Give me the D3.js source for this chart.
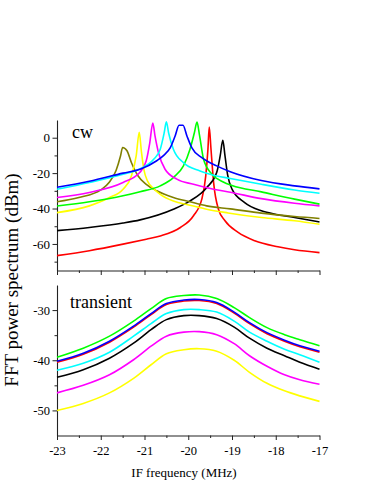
<!DOCTYPE html>
<html>
<head>
<meta charset="utf-8">
<script src="https://cdn.jsdelivr.net/npm/d3@7"></script>
<style>
  html, body { margin: 0; padding: 0; background: #fff; }
  svg { display: block; }
  text { font-family: "Liberation Serif", "DejaVu Serif", serif; fill: #000; }
</style>
</head>
<body>
<script>
// ---------- DATA ----------
// Top panel ("cw"): each curve has its own frequency samples (MHz) and values (dBm)
const blueF   = [-23, -22.26, -21.49, -21.1, -20.72, -20.56, -20.41, -20.30, -20.21, -20.12, -20.03, -19.92, -19.69, -19.35, -19.04, -18.33, -17.57, -17];
const blueV   = [-28.0, -24.6, -20.0, -17.8, -13.0, -10.0, -5.6, 1.0, 7.0, 7.0, 1.0, -5.6, -11.3, -15.9, -19.2, -24.2, -27.2, -28.9];

const cyanF   = [-23, -22.26, -21.49, -21.1, -20.79, -20.64, -20.55, -20.50, -20.45, -20.34, -20.11, -19.73, -19.35, -19.04, -18.33, -17.57, -17];
const cyanV   = [-29.1, -25.3, -20.6, -17.5, -12.2, -6.5, 2.8, 9.0, 2.8, -6.5, -14.1, -18.8, -21.6, -23.0, -26.3, -29.5, -31.4];

const magentaF = [-23, -22.26, -21.49, -21.11, -20.96, -20.88, -20.81, -20.76, -20.68, -20.53, -20.26, -19.88, -19.42, -19.04, -18.33, -17.57, -17];
const magentaV = [-33.8, -30.9, -25.3, -19.7, -13.0, -3.0, 8.3, 1.0, -8.5, -17.8, -23.4, -26.3, -29.1, -30.8, -34.4, -37.0, -38.5];

const yellowF = [-23, -22.26, -21.80, -21.49, -21.30, -21.19, -21.12, -21.07, -21.01, -20.93, -20.79, -20.64, -20.34, -19.96, -19.58, -19.09, -18.33, -17.57, -17];
const yellowV = [-42.3, -38.5, -33.8, -29.1, -21.6, -10.3, 3.0, -8.0, -18.5, -24.5, -28.8, -32.0, -35.8, -38.1, -40.4, -42.5, -45.1, -46.9, -48.9];

const oliveF  = [-23, -22.5, -22.0, -21.8, -21.65, -21.55, -21.50, -21.40, -21.30, -21.15, -20.96, -20.72, -20.34, -19.96, -19.58, -19.04, -18.33, -17.57, -17];
const oliveV  = [-36.2, -33.8, -29.5, -25.0, -18.5, -10.5, -5.5, -7.4, -14.0, -21.5, -26.3, -30.0, -33.8, -36.2, -38.5, -40.2, -42.6, -44.5, -45.6];

const greenF  = [-23, -22.26, -21.49, -21.1, -20.64, -20.34, -20.11, -19.96, -19.86, -19.80, -19.74, -19.65, -19.46, -19.2, -19.0, -18.33, -17.57, -17];
const greenV  = [-38.6, -36.2, -32.8, -30.5, -27.2, -22.5, -15.9, -6.5, 2.8, 8.8, 1.0, -12.2, -20.6, -25.0, -27.0, -30.6, -34.7, -37.5];

const blackF  = [-23, -22.26, -21.49, -21.1, -20.34, -19.96, -19.58, -19.35, -19.27, -19.21, -19.16, -19.10, -19.0, -18.71, -18.33, -17.95, -17.57, -17];
const blackV  = [-52.5, -50.7, -48.2, -46.4, -40.4, -35.7, -28.2, -19.7, -10.3, -1.5, -10.3, -21.0, -29.0, -36.6, -41.3, -43.5, -45.1, -47.6];

const redF    = [-23, -22.26, -21.49, -20.96, -20.64, -20.18, -19.88, -19.69, -19.60, -19.55, -19.52, -19.48, -19.42, -19.31, -19.16, -18.86, -18.48, -17.95, -17.57, -17];
const redV    = [-66.6, -63.8, -60.1, -57.3, -55.5, -50.7, -44.1, -34.7, -21.6, -6.5, 6.0, -6.5, -25.4, -40.4, -46.9, -53.5, -58.2, -61.6, -63.3, -64.9];

// Bottom panel ("transient"): shared frequency samples
const transF      = [-23, -22.4, -21.8, -21.25, -20.85, -20.5, -20.1, -19.75, -19.35, -18.95, -18.6, -18.2, -17.8, -17.45, -17];
const tGreenV     = [-39.4, -37.6, -35.2, -32.2, -29.7, -27.7, -27.1, -27.0, -27.7, -29.5, -31.5, -33.5, -34.9, -35.9, -37.1];
const tRedV       = [-40.4, -38.8, -36.4, -33.4, -30.9, -28.9, -28.2, -28.1, -28.7, -30.6, -32.7, -34.7, -36.2, -37.3, -38.4];
const tBlueV      = [-40.2, -38.6, -36.2, -33.2, -30.7, -28.7, -28.0, -27.9, -28.5, -30.4, -32.5, -34.5, -36.0, -37.1, -38.2];
const tCyanV      = [-42.0, -40.6, -38.4, -35.2, -32.7, -30.7, -29.9, -29.9, -30.4, -32.2, -34.4, -36.2, -37.8, -38.9, -40.4];
const tBlackV     = [-43.4, -41.9, -39.6, -36.6, -33.9, -31.9, -31.1, -31.1, -31.7, -33.4, -35.6, -37.6, -39.1, -40.4, -41.8];
const tMagentaV   = [-46.5, -45.0, -42.9, -39.9, -37.2, -35.2, -34.4, -34.3, -34.9, -36.7, -39.1, -41.2, -42.9, -43.9, -44.8];
const tYellowV    = [-50.0, -48.6, -46.5, -43.6, -40.9, -38.7, -37.9, -37.7, -38.2, -40.0, -42.4, -44.6, -46.1, -47.1, -48.2];

// Axis ticks
const xMajor = [-23, -22, -21, -20, -19, -18, -17];
const xMinor = [-22.5, -21.5, -20.5, -19.5, -18.5, -17.5];
const yTopMajor = [-60, -40, -20, 0];
const yTopMinor = [-70, -50, -30, -10];
const yBotMajor = [-50, -40, -30];
const yBotMinor = [-45, -35];

// ---------- DRAWING ----------
const W = 374, H = 484;
const svg = d3.select("body").append("svg").attr("width", W).attr("height", H);

const x = d3.scaleLinear().domain([-23, -17]).range([57, 319.5]);
const yTop = d3.scaleLinear().domain([-75, 10]).range([270.5, 120]);
const yBot = d3.scaleLinear().domain([-55, -25]).range([435.5, 285]);

function zip(f, v) { return f.map((d, i) => [d, v[i]]); }

function drawAxes(y, yMaj, yMin, bottomY, showXLabels, yFont) {
  svg.append("g").attr("transform", `translate(0,${bottomY})`)
    .call(d3.axisBottom(x).tickValues(xMinor).tickSize(2.5).tickSizeOuter(0).tickFormat(""))
    .call(g => g.select(".domain").remove());
  const gx = svg.append("g").attr("transform", `translate(0,${bottomY})`)
    .call(d3.axisBottom(x).tickValues(xMajor).tickSize(4.5).tickSizeOuter(0)
      .tickFormat(showXLabels ? (d => String(d)) : ""));
  gx.selectAll("text").attr("font-size", 12.5).attr("dy", "0.95em")
    .attr("font-family", "Liberation Serif");
  svg.append("g").attr("transform", `translate(${x.range()[0]},0)`)
    .call(d3.axisLeft(y).tickValues(yMin).tickSize(2.5).tickSizeOuter(0).tickFormat(""))
    .call(g => g.select(".domain").remove());
  const gy = svg.append("g").attr("transform", `translate(${x.range()[0]},0)`)
    .call(d3.axisLeft(y).tickValues(yMaj).tickSize(4.5).tickSizeOuter(0).tickFormat(d => String(d)));
  gy.selectAll("text").attr("font-size", yFont).attr("font-family", "Liberation Serif").attr("x", -7);
  svg.selectAll(".domain").attr("stroke", "#222").attr("stroke-width", 1.1);
  svg.selectAll(".tick line").attr("stroke", "#222").attr("stroke-width", 1);
}

drawAxes(yTop, yTopMajor, yTopMinor, 270.5, false, 13);
drawAxes(yBot, yBotMajor, yBotMinor, 435.5, true, 12.5);

const lineTop = d3.line().x(d => x(d[0])).y(d => yTop(d[1])).curve(d3.curveMonotoneX);
const lineBot = d3.line().x(d => x(d[0])).y(d => yBot(d[1])).curve(d3.curveCatmullRom.alpha(0.5));

const topSeries = [
  { f: redF, v: redV, c: "#ff0000" },
  { f: blackF, v: blackV, c: "#000000" },
  { f: oliveF, v: oliveV, c: "#808000" },
  { f: yellowF, v: yellowV, c: "#ffff00" },
  { f: greenF, v: greenV, c: "#00ff00" },
  { f: magentaF, v: magentaV, c: "#ff00ff" },
  { f: cyanF, v: cyanV, c: "#00ffff" },
  { f: blueF, v: blueV, c: "#0000ff" }
];
svg.append("g").selectAll("path").data(topSeries).join("path")
  .attr("d", s => lineTop(zip(s.f, s.v)))
  .attr("fill", "none").attr("stroke", s => s.c).attr("stroke-width", 1.6)
  .attr("stroke-linejoin", "round");

const botSeries = [
  { v: tYellowV, c: "#ffff00" },
  { v: tMagentaV, c: "#ff00ff" },
  { v: tBlackV, c: "#000000" },
  { v: tCyanV, c: "#00ffff" },
  { v: tRedV, c: "#ff0000" },
  { v: tBlueV, c: "#0000ff" },
  { v: tGreenV, c: "#00ff00" }
];
svg.append("g").selectAll("path").data(botSeries).join("path")
  .attr("d", s => lineBot(zip(transF, s.v)))
  .attr("fill", "none").attr("stroke", s => s.c).attr("stroke-width", 1.6);

// Panel labels
svg.append("text").attr("x", 72).attr("y", 138).attr("font-size", 18).text("cw");
svg.append("text").attr("x", 70).attr("y", 308).attr("font-size", 18).text("transient");

// Axis titles
svg.append("text").attr("x", 184).attr("y", 477).attr("text-anchor", "middle")
  .attr("font-size", 13).text("IF frequency (MHz)");
svg.append("text").attr("transform", "translate(18,280) rotate(-90)")
  .attr("text-anchor", "middle").attr("font-size", 19)
  .text("FFT power spectrum (dBm)");
</script>
</body>
</html>
